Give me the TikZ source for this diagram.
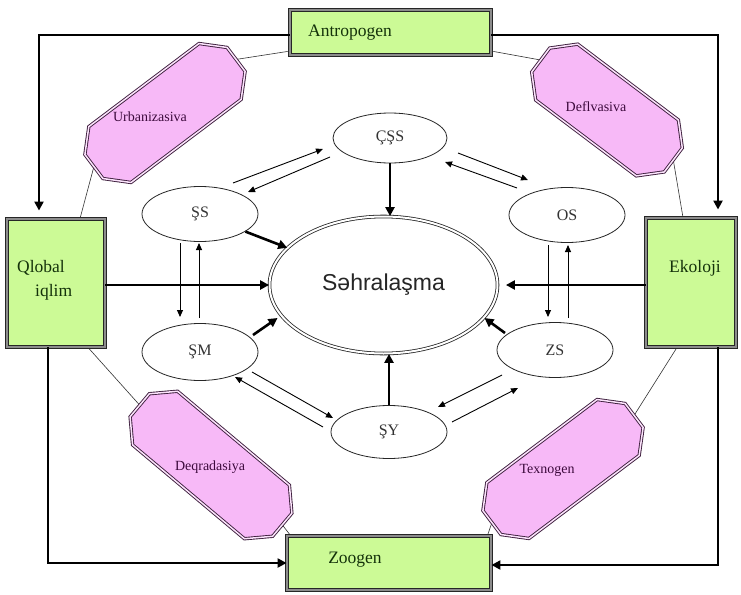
\documentclass[tikz,border=0pt]{standalone}
\usepackage{fontspec}
\setmainfont{Liberation Serif}
\newfontfamily\sansf{Liberation Sans}
\usetikzlibrary{shapes.geometric,arrows.meta,backgrounds}
\definecolor{boxgreen}{RGB}{204,250,150}
\definecolor{boxtext}{RGB}{20,50,10}
\definecolor{pinkfill}{RGB}{247,185,247}
\definecolor{pinkedge}{RGB}{60,30,60}
\definecolor{pinktext}{RGB}{60,10,60}
\tikzset{
 gbox/.style={rectangle, fill=boxgreen, draw=black!85, line width=0.9pt, double=gray!90, double distance=2.4pt, inner sep=0pt},
 gtext/.style={font=\fontsize{17.5}{24}\selectfont, text=boxtext, inner sep=0pt},
 octo/.style={fill=pinkfill, draw=pinkedge, line width=0.9pt, double=pinkfill!40!white, double distance=1.5pt, line join=miter},
 otext/.style={font=\fontsize{14}{16}\selectfont, text=pinktext, inner sep=0pt},
 sell/.style={ellipse, draw=black!85, line width=0.8pt, minimum width=116pt, minimum height=55pt, inner sep=0pt, font=\fontsize{16}{18}\selectfont, text=black!80},
 bigarrow/.style={line width=2.6pt, -{Triangle[length=9pt,width=9pt]}},
 thinarrow/.style={line width=0.9pt, -{Triangle[length=7pt,width=6pt]}},
 thinline/.style={line width=0.6pt, draw=black!80},
}
% #1 name, #2 cx, #3 cy, #4 angle, #5 length
\newcommand\drawocto[5]{%
 \begin{scope}[shift={(#2,#3)}, rotate=#4]
  \draw[octo] ({-#5/2},-15) -- ({-#5/2},15) -- ({-#5/2+20},35) -- ({#5/2-20},35)
   -- ({#5/2},15) -- ({#5/2},-15) -- ({#5/2-20},-35) -- ({-#5/2+20},-35) -- cycle;
  \coordinate (#1-w) at ({-#5/2},0);
  \coordinate (#1-e) at ({#5/2},0);
 \end{scope}}
\begin{document}
\begin{tikzpicture}[x=1pt,y=-1pt]
\useasboundingbox (0,0) rectangle (741,594);

% purple octagons
\drawocto{urb}{165}{113}{37}{178}
\drawocto{def}{607}{110}{-37}{166}
\drawocto{deq}{211}{465}{-40}{186}
\drawocto{tex}{563}{469}{37}{178}
\node[otext] (urbT) at (150,117) {Urbanizasiva};
\node[otext] (defT) at (596,107) {Deflvasiva};
\node[otext] (deqT) at (210,467) {Deqradasiya};
\node[otext] (texT) at (547,470) {Texnogen};

% green boxes
\node[gbox, minimum width=201pt, minimum height=45pt] (ant) at (390.5,32.5) {};
\node[gtext, anchor=west] (antT) at (308,33) {Antropogen};
\node[gbox, minimum width=98pt, minimum height=128pt] (ql) at (56,283) {};
\node[gtext, anchor=west, align=left] (qlT) at (17,280) {Qlobal\\\hspace*{18pt}iqlim};
\node[gbox, minimum width=90pt, minimum height=129pt] (ek) at (691,282.5) {};
\node[gtext] (ekT) at (695,268) {Ekoloji};
\node[gbox, minimum width=204pt, minimum height=54pt] (zo) at (389,563) {};
\node[gtext] (zoT) at (355,560) {Zoogen};

% ellipses
\node[ellipse, draw=black!85, line width=0.8pt, double=white, double distance=2pt, minimum width=228pt, minimum height=137pt, font=\sansf\fontsize{23}{25}\selectfont, text=black!85] (c) at (383.5,285) {Səhralaşma};
\node[sell, minimum width=114pt, minimum height=50pt] (cs) at (390,138) {ÇŞS};
\node[sell] (ss) at (200,214) {ŞS};
\node[sell] (os) at (567,215) {OS};
\node[sell, minimum height=57pt] (sm) at (200,352) {ŞM};
\node[sell] (zs) at (555,350) {ZS};
\node[sell, minimum height=53pt] (sy) at (389,432) {ŞY};

% background thin lines
\begin{pgfonlayer}{background}
\fill[white] (0,0) rectangle (741,594);
\draw[thinline] ([shift={(-2,-4)}]ant.south west) -- (urb-e);
\draw[thinline] (urb-w) -- ([shift={(24,0)}]ql.north);
\draw[thinline] ([shift={(2,-4)}]ant.south east) -- (def-w);
\draw[thinline] (def-e) -- ([shift={(-8,0)}]ek.north);
\draw[thinline] ([shift={(32,0)}]ql.south) -- (deq-w);
\draw[thinline] (deq-e) -- ([shift={(4,0)}]zo.north west);
\draw[thinline] (tex-w) -- ([shift={(-4,0)}]zo.north east);
\draw[thinline] (tex-e) -- ([shift={(-14,0)}]ek.south);
\end{pgfonlayer}

% thick arrows
\draw[bigarrow] ([shift={(0,2.5)}]ant.west) -| ([shift={(-17,-8)}]ql.north);
\draw[bigarrow] ([shift={(0,2.5)}]ant.east) -| ([shift={(27,-8)}]ek.north);
\draw[bigarrow] ([shift={(-8,0)}]ql.south) |- (zo.west);
\draw[bigarrow] ([shift={(27,0)}]ek.south) |- ([shift={(0,2)}]zo.east);
\draw[bigarrow] (ql.east |- c.west) -- (c.west);
\draw[bigarrow, shorten >=8pt] (ek.west |- c.east) -- (c.east);
\draw[bigarrow] (cs.south) -- (cs.south |- c.north);
\draw[bigarrow] (sy.north) -- (sy.north |- c.south);
\draw[bigarrow] (ss) -- (c);
\draw[bigarrow] ([shift={(53,-17)}]sm.center) -- ([shift={(-106,33)}]c.center);
\draw[bigarrow] ([shift={(-50,-17)}]zs.center) -- ([shift={(101,33)}]c.center);

% thin arrow pairs
\draw[thinarrow] ([shift={(33,-31)}]ss.center) -- ([shift={(-67,11)}]cs.center);
\draw[thinarrow] ([shift={(-60,19)}]cs.center) -- ([shift={(48,-22)}]ss.center);
\draw[thinarrow] ([shift={(68,15)}]cs.center) -- ([shift={(-39,-35)}]os.center);
\draw[thinarrow] ([shift={(-50,-27)}]os.center) -- ([shift={(55,24)}]cs.center);
\draw[thinarrow] ([shift={(-19,30)}]os.center) -- ([shift={(-7,-33)}]zs.center);
\draw[thinarrow] ([shift={(13,-32)}]zs.center) -- ([shift={(1,30)}]os.center);
\draw[thinarrow] ([shift={(-20,29)}]ss.center) -- ([shift={(-20,-35)}]sm.center);
\draw[thinarrow] ([shift={(-1,-34)}]sm.center) -- ([shift={(-1,29)}]ss.center);
\draw[thinarrow] ([shift={(52,20)}]sm.center) -- ([shift={(-56,-14)}]sy.center);
\draw[thinarrow] ([shift={(-66,-5)}]sy.center) -- ([shift={(35,25)}]sm.center);
\draw[thinarrow] ([shift={(-53,25)}]zs.center) -- ([shift={(49,-25)}]sy.center);
\draw[thinarrow] ([shift={(63,-10)}]sy.center) -- ([shift={(-37,38)}]zs.center);
\end{tikzpicture}
\end{document}
